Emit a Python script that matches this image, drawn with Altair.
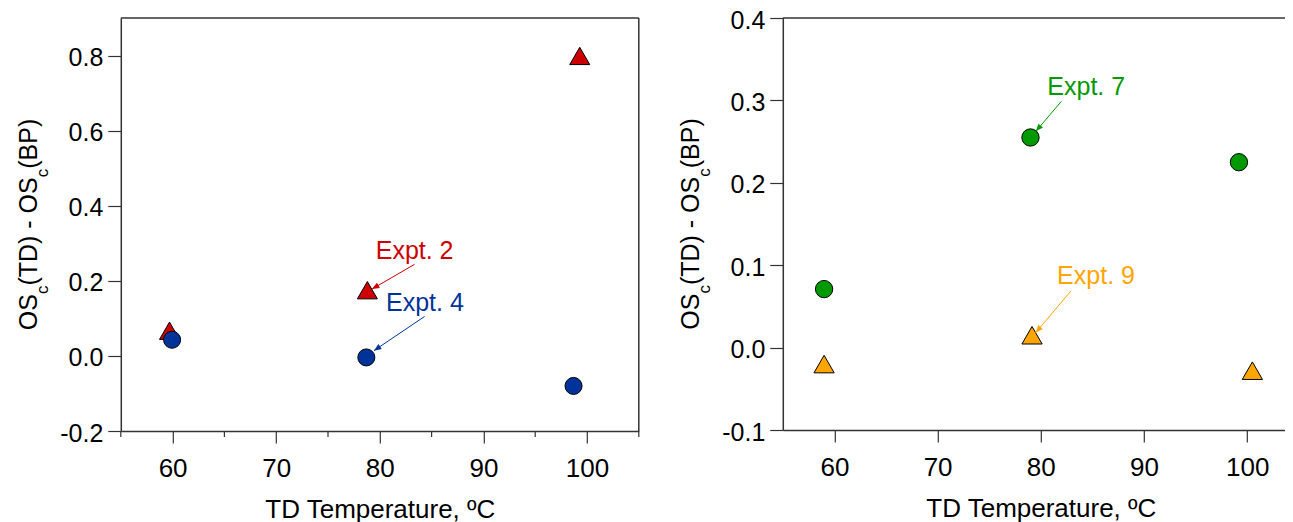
import math
import altair as alt
import pandas as pd

FONT = "Liberation Sans"

# ---------------- data ----------------
x_ticks = [60, 70, 80, 90, 100]
x_minor_ticks = [55, 65, 75, 85, 95, 105]
left_y_ticks = [-0.2, 0.0, 0.2, 0.4, 0.6, 0.8]
right_y_ticks = [-0.1, 0.0, 0.1, 0.2, 0.3, 0.4]

expt2_temp = [59.7, 78.8, 99.3]
expt2_diff = [0.067, 0.175, 0.799]
expt4_temp = [59.95, 78.7, 98.7]
expt4_diff = [0.043, -0.004, -0.080]

expt7_temp = [59.0, 79.0, 99.2]
expt7_diff = [0.071, 0.255, 0.225]
expt9_temp = [59.0, 79.15, 100.5]
expt9_diff = [-0.020, 0.015, -0.028]

left_labels = ["Expt. 2", "Expt. 4"]
left_label_x = [83.36, 84.35]
left_label_y = [0.259, 0.120]
left_arrow_from_x = [83.36, 84.32]
left_arrow_from_y = [0.244, 0.105]
left_arrow_to_x = [79.24, 79.43]
left_arrow_to_y = [0.178, 0.014]

right_labels = ["Expt. 7", "Expt. 9"]
right_label_x = [84.4, 85.35]
right_label_y = [0.307, 0.0767]
right_arrow_from_x = [82.0, 82.9]
right_arrow_from_y = [0.299, 0.0685]
right_arrow_to_x = [79.52, 79.5]
right_arrow_to_y = [0.2625, 0.018]

RED, BLUE, GREEN, ORANGE = "#cc0000", "#003399", "#009900", "#ffa500"
AX = "#333333"

X_TITLE = "TD Temperature, ºC"

# Arial advance widths (per 1000 em) for the y-title pieces
ADV = {"O": 778, "S": 667, "(": 333, ")": 333, "T": 611, "D": 722, " ": 278,
       "-": 333, "B": 667, "P": 667, "c": 500}


def text_w(s, fs):
    return sum(ADV[ch] for ch in s) / 1000.0 * fs


def y_title_layers(height):
    pieces = [("OS", 25, 0), ("c", 17, 11), ("(TD) - OS", 25, 0), ("c", 17, 11), ("(BP)", 25, 0)]
    total = sum(text_w(t, f) for t, f, _ in pieces)
    y0 = height / 2 + total / 2
    layers = []
    off = 0.0
    for t, f, dy in pieces:
        layers.append(
            alt.Chart(pd.DataFrame({"k": [0]}))
            .mark_text(text=t, font=FONT, fontSize=f, angle=270, align="left",
                       baseline="alphabetic", dx=off, dy=dy, color="black")
            .encode(x=alt.value(-84), y=alt.value(y0))
        )
        off += text_w(t, f)
    return layers


def panel(series, labels, lx, ly, ax1, ay1, ax2, ay2, lcolors, xdom, ydom, yvals,
          width, height, minor, frame_right):
    xs = alt.Scale(domain=xdom, nice=False, zero=False)
    ys = alt.Scale(domain=ydom, nice=False, zero=False)
    xaxis = alt.Axis(values=x_ticks, tickSize=12, labelPadding=12, title=X_TITLE,
                     titlePadding=15, titleFontSize=26, titleFont=FONT, titleFontWeight="normal",
                     titleColor="black", labelFont=FONT, labelFontSize=26, labelColor="black",
                     grid=False, domainColor=AX, tickColor=AX, domainWidth=1.5, tickWidth=1.2,
                     labelFlush=False, labelOverlap=False)
    yaxis = alt.Axis(values=yvals, tickSize=13, labelPadding=5, title=None, labelFont=FONT,
                     labelFontSize=25, labelColor="black", grid=False, domainColor=AX,
                     tickColor=AX, domainWidth=1.5, tickWidth=1.2, labelFlush=False,
                     labelOverlap=False, labelBaseline="alphabetic", labelOffset=10,
                     labelExpr="datum.value < 0 ? '-' + format(-datum.value, '.1f') : format(datum.value, '.1f')")
    X = lambda f: alt.X(f, type="quantitative", scale=xs, axis=xaxis)
    Y = lambda f: alt.Y(f, type="quantitative", scale=ys, axis=yaxis)

    layers = []
    one = pd.DataFrame({"k": [0]})
    # frame lines
    layers.append(alt.Chart(one).mark_rule(color=AX, strokeWidth=1.5).encode(
        x=alt.value(0), x2=alt.value(width), y=alt.value(0)))
    if frame_right:
        layers.append(alt.Chart(one).mark_rule(color=AX, strokeWidth=1.5).encode(
            x=alt.value(width), y=alt.value(0), y2=alt.value(height)))
    if minor:
        layers.append(alt.Chart(pd.DataFrame({"t": x_minor_ticks})).mark_rule(
            color=AX, strokeWidth=1.2).encode(x=X("t"), y=alt.value(height), y2=alt.value(height + 6)))

    for temps, diffs, color, shape, size in series:
        df = pd.DataFrame({"t": temps, "d": diffs})
        layers.append(alt.Chart(df).mark_point(filled=True, fill=color, stroke="black",
                                               strokeWidth=1, shape=shape, size=size, opacity=1)
                      .encode(x=X("t"), y=Y("d")))

    pxx = width / (xdom[1] - xdom[0])
    pxy = height / (ydom[1] - ydom[0])
    adf = pd.DataFrame({"x1": ax1, "y1": ay1, "x2": ax2, "y2": ay2, "c": lcolors})
    adf["ang"] = [
        math.degrees(math.atan2((b - a) * pxx, (d - c) * pxy)) % 360
        for a, b, c, d in zip(adf.x1, adf.x2, adf.y1, adf.y2)
    ]
    layers.append(alt.Chart(adf).mark_rule(strokeWidth=1).encode(
        x=X("x1"), y=Y("y1"), x2="x2", y2="y2", color=alt.Color("c:N", scale=None)))
    layers.append(alt.Chart(adf).mark_point(filled=True, opacity=1, size=225,
                                            shape="M0,0L-0.4,1L0.4,1Z").encode(
        x=X("x2"), y=Y("y2"), color=alt.Color("c:N", scale=None),
        angle=alt.Angle("ang:Q", scale=None)))
    ldf = pd.DataFrame({"x": lx, "y": ly, "txt": labels, "c": lcolors})
    layers.append(alt.Chart(ldf).mark_text(font=FONT, fontSize=25, align="center",
                                           baseline="alphabetic").encode(
        x=X("x"), y=Y("y"), text="txt:N", color=alt.Color("c:N", scale=None)))
    layers += y_title_layers(height)
    return alt.layer(*layers).properties(width=width, height=height)


left = panel(
    [(expt2_temp, expt2_diff, RED, "triangle-up", 400),
     (expt4_temp, expt4_diff, BLUE, "circle", 290)],
    left_labels, left_label_x, left_label_y,
    left_arrow_from_x, left_arrow_from_y, left_arrow_to_x, left_arrow_to_y, [RED, BLUE],
    [55, 105], [-0.2, 0.9], left_y_ticks, 518, 413, True, True)

right = panel(
    [(expt7_temp, expt7_diff, GREEN, "circle", 300),
     (expt9_temp, expt9_diff, ORANGE, "triangle-up", 410)],
    right_labels, right_label_x, right_label_y,
    right_arrow_from_x, right_arrow_from_y, right_arrow_to_x, right_arrow_to_y, [GREEN, ORANGE],
    [55, 105], [-0.1, 0.4], right_y_ticks, 516, 412, False, True)

PAD_L, PAD_T = 112.8, 10
chart = (
    alt.hconcat(left, right, spacing=144, bounds="flush")
    .properties(
        autosize=alt.AutoSizeParams(type="none"),
        padding={"left": PAD_L, "top": PAD_T, "right": 1277 - PAD_L, "bottom": 514 - PAD_T},
    )
    .configure_view(strokeWidth=0)
)

chart.save("out.html", embed_options={"renderer": "svg", "actions": False})
